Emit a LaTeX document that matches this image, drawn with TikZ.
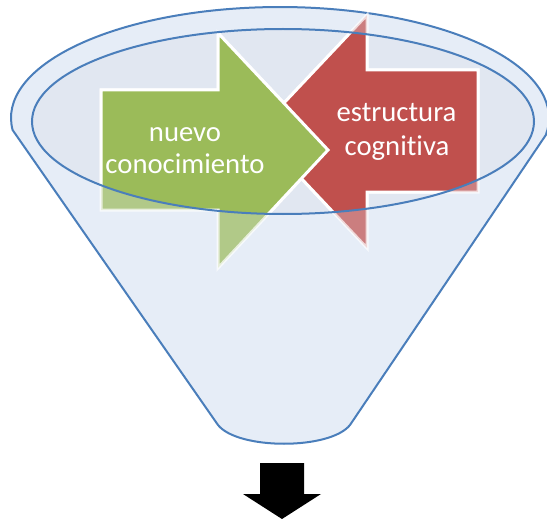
\documentclass[tikz,border=0pt]{standalone}
\usepackage{fontspec}
\setmainfont[Ligatures=NoCommon]{Carlito}

\definecolor{embudo}{RGB}{230,237,247}
\definecolor{bocaemb}{RGB}{225,231,241}
\definecolor{bordeemb}{RGB}{74,126,187}
\definecolor{verde}{RGB}{155,187,89}
\definecolor{rojo}{RGB}{192,80,77}

\tikzset{
  texto/.style={anchor=base,text=white,inner sep=0pt,font=\fontsize{28.7}{32}\selectfont},
  flecha/.style={draw=white,line width=3pt,line join=miter},
  linea/.style={draw=bordeemb,line width=2pt},
}
\def\flechaverde{(101,90) -- (218,90) -- (218,33) -- (328,150) -- (218,268) -- (218,210) -- (101,210) -- cycle}
\def\flecharoja{(478,70) -- (367,70) -- (367,15) -- (257,131.5) -- (367,248) -- (367,192) -- (478,192) -- cycle}
\def\boca{(283,121.5) ellipse [x radius=251, y radius=92.5]}

\begin{document}
\begin{tikzpicture}[x=1pt,y=-1pt]
\useasboundingbox (0,0) rectangle (547,519);
% embudo
\filldraw[linea,fill=embudo] (12.6,130) arc[start angle=173.8,end angle=368.8,x radius=269,y radius=111]
  -- (350,425) .. controls (330,450) and (238,450) .. (218,425) -- cycle;
\fill[bocaemb] \boca;
% flechas, mas claras fuera de la boca
\filldraw[flecha,fill=rojo,opacity=.7] \flecharoja;
\filldraw[flecha,fill=verde,opacity=.7] \flechaverde;
\begin{scope}
\clip \boca;
\filldraw[flecha,fill=rojo] \flecharoja;
\filldraw[flecha,fill=verde] \flechaverde;
\end{scope}
\draw[linea] \boca;
\node[texto] (nuevo) at (185,142) {nuevo};
\node[texto] (conoc) at (185,174) {conocimiento};
\node[texto] (estruc) at (396.5,122) {estructura};
\node[texto] (cogn) at (397,155) {cognitiva};
% salida
\fill (260,463) -- (304,463) -- (304,494) -- (321,494) -- (282,519) -- (243,494) -- (260,494) -- cycle;
\end{tikzpicture}
\end{document}
